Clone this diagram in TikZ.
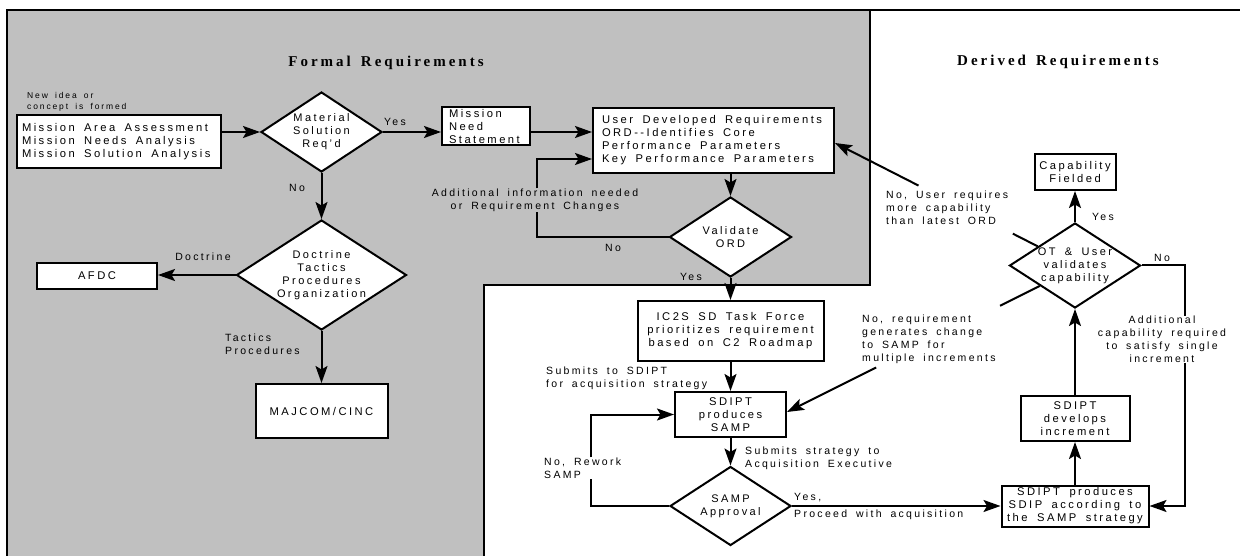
\documentclass[tikz,border=0pt]{standalone}
\usepackage{fontspec}
\setmainfont{Liberation Sans}[LetterSpace=22,WordSpace=1.7]
\newfontfamily\titlefont{Liberation Serif}[LetterSpace=20,WordSpace=1.5]
\usetikzlibrary{shapes.geometric,arrows.meta,calc}
\definecolor{bggray}{RGB}{192,192,192}
\newcommand\resetsp{\spaceskip=0pt\xspaceskip=0pt\relax}
\begin{document}
\begin{tikzpicture}[x=1pt,y=-1pt,
  every node/.style={font=\fontsize{10.5}{13}\selectfont},
  box/.style={draw,fill=white,line width=2pt,inner sep=0pt,font=\fontsize{11.2}{13}\selectfont},
  dia/.style={diamond,draw,fill=white,line width=2pt,inner sep=-4pt,aspect=1.5,align=center,font=\fontsize{11}{13}\selectfont},
  lbl/.style={inner sep=0pt},
  arr/.style={line width=2pt,-{Stealth[length=17pt,width=12pt,inset=3.5pt]}},
  ln/.style={line width=2pt},
  frameline/.style={line width=2pt},
  ttl/.style={font={\titlefont\bfseries\fontsize{15}{17}\selectfont}},
  small/.style={font=\fontsize{8.5}{10.5}\selectfont}]
\useasboundingbox (0,0) rectangle (1240,556);
\fill[bggray] (7,10) -- (870,10) -- (870,285) -- (484,285) -- (484,556) -- (7,556) -- cycle;
\draw[frameline] (7,556) -- (7,10) -- (1240,10);
\draw[frameline] (870,10) -- (870,285) -- (484,285) -- (484,556);

% titles
\node[ttl] (tf) at (386,63) {Formal Requirements};
\node[ttl] (td) at (1058,62) {Derived Requirements};

% nodes
\node[box,minimum width=204pt,minimum height=53pt,text width=194pt,align=left] (mis) at (119,141.5) {\resetsp Mission Area Assessment\\Mission Needs Analysis\\Mission Solution Analysis};
\node[lbl,small,align=left,anchor=west] (idea) at (27,102) {New idea or\\concept is formed};
\node[dia,minimum width=121pt,minimum height=80pt] (mat) at (321.5,132) {Material\\Solution\\Req'd};
\node[box,minimum width=88pt,minimum height=38pt,text width=74pt,align=left] (mns) at (486,126.5) {\resetsp Mission\\Need\\Statement};
\node[box,minimum width=241pt,minimum height=65pt,text width=223pt,align=left] (udr) at (713.5,140.5) {\resetsp User Developed Requirements\\ORD-{}-Identifies Core\\Performance Parameters\\Key Performance Parameters};
\node[dia,minimum width=122pt,minimum height=80pt] (vord) at (730.5,237) {Validate\\ORD};
\node[dia,minimum width=170pt,minimum height=110pt] (doct) at (321.5,275) {Doctrine\\Tactics\\Procedures\\Organization};
\node[box,minimum width=120pt,minimum height=26pt] (afdc) at (97,276) {AFDC};
\node[box,minimum width=132pt,minimum height=54pt] (maj) at (321.5,411) {MAJCOM/CINC};
\node[box,minimum width=186pt,minimum height=60pt,align=center] (ic2s) at (730.5,331) {IC2S SD Task Force\\prioritizes requirement\\based on C2 Roadmap};
\node[box,minimum width=111pt,minimum height=45pt,align=center] (sds) at (730.5,414.5) {SDIPT\\produces\\SAMP};
\node[dia,minimum width=121pt,minimum height=79pt] (sapp) at (730.5,506) {SAMP\\Approval};
\node[box,minimum width=147pt,minimum height=41pt,align=center] (sdip) at (1075,506) {SDIPT produces\\SDIP according to\\the SAMP strategy};
\node[box,minimum width=109pt,minimum height=45pt,align=center] (dev) at (1075,418.5) {SDIPT\\develops\\increment};
\node[dia,minimum width=131pt,minimum height=85pt] (ot) at (1075,265.5) {OT \& User\\validates\\capability};
\node[box,minimum width=81pt,minimum height=36pt,align=center] (cap) at (1075,172) {Capability\\Fielded};

% labels
\node[lbl] (ly1) at (395,122) {Yes};
\node[lbl] (ln1) at (297,188) {No};
\node[lbl] (ldoc) at (203,257) {Doctrine};
\node[lbl,align=left,anchor=west] (ltac) at (225,344.5) {Tactics\\Procedures};
\node[lbl,align=center] (addl) at (535,200) {Additional information needed\\or Requirement Changes};
\node[lbl] (ln2) at (613,248) {No};
\node[lbl] (ly2) at (691,277) {Yes};
\node[lbl,align=left,anchor=west] (lsub) at (546,378.5) {Submits to SDIPT\\for acquisition strategy};
\node[lbl,align=left,anchor=west] (lsub2) at (745,458.5) {Submits strategy to\\Acquisition Executive};
\node[lbl,align=left,anchor=west] (rework) at (544,468) {No, Rework\\SAMP};
\node[lbl,align=left,anchor=west] (lproc) at (794,506.5) {Yes,\\[4pt]Proceed with acquisition};
\node[lbl] (ly3) at (1103,217) {Yes};
\node[lbl] (ln3) at (1162,258) {No};
\node[lbl,align=center] (addc) at (1162,339.5) {Additional\\capability required\\to satisfy single\\increment};
\node[lbl,align=left,anchor=west] (luser) at (886,207.5) {No, User requires\\more capability\\than latest ORD};
\node[lbl,align=left,anchor=west] (lreq) at (862,339.5) {No, requirement\\generates change\\to SAMP for\\multiple increments};

% connectors
\draw[arr] (mis.east |- mat.west) -- (mat.west);
\draw[arr] (mat.east) -- (mat.east -| mns.west);
\draw[arr] (mns.east |- mat.east) -- (udr.west |- mat.east);
\draw[arr] (mat.south) -- (doct.north);
\draw[arr] (doct.west) -- (afdc.east |- doct.west);
\draw[arr] (doct.south) -- (maj.north);
\draw[arr] (vord.north |- udr.south) -- (vord.north);
\coordinate (fbx) at (537,0);
\draw[ln] (vord.west) -| (fbx |- addl.south);
\draw[arr] (fbx |- addl.north) |- ([yshift=-18.5pt]udr.west);
\draw[arr] (vord.south) -- (ic2s.north);
\draw[arr] (ic2s.south) -- (sds.north);
\draw[arr] (sds.south) -- (sapp.north);
\coordinate (rwx) at (591,0);
\draw[ln] (sapp.west) -| (rwx |- rework.south);
\draw[arr] (rwx |- rework.north) |- (sds.west);
\draw[arr] (sapp.east) -- (sdip.west);
\draw[arr] (sdip.north) -- (dev.south);
\draw[arr] (dev.north) -- (ot.south);
\draw[arr] (ot.north) -- (cap.south);
\coordinate (nox) at (1185,0);
\draw[ln] (ot.east) -| (nox |- addc.north);
\draw[arr] (nox |- addc.south) |- (sdip.east);
\coordinate (pu) at ($(ot.west)!0.44!(ot.north)$);
\coordinate (qu) at ([yshift=-2.5pt]udr.east);
\draw[ln] (pu) -- ($(pu)!0.123!(qu)$);
\draw[arr] ($(pu)!0.588!(qu)$) -- (qu);
\coordinate (pl) at ($(ot.west)!0.47!(ot.south)$);
\coordinate (ql) at ([yshift=2.5pt]sds.east);
\draw[ln] (pl) -- ($(pl)!0.157!(ql)$);
\draw[arr] ($(pl)!0.647!(ql)$) -- (ql);
\end{tikzpicture}
\end{document}
